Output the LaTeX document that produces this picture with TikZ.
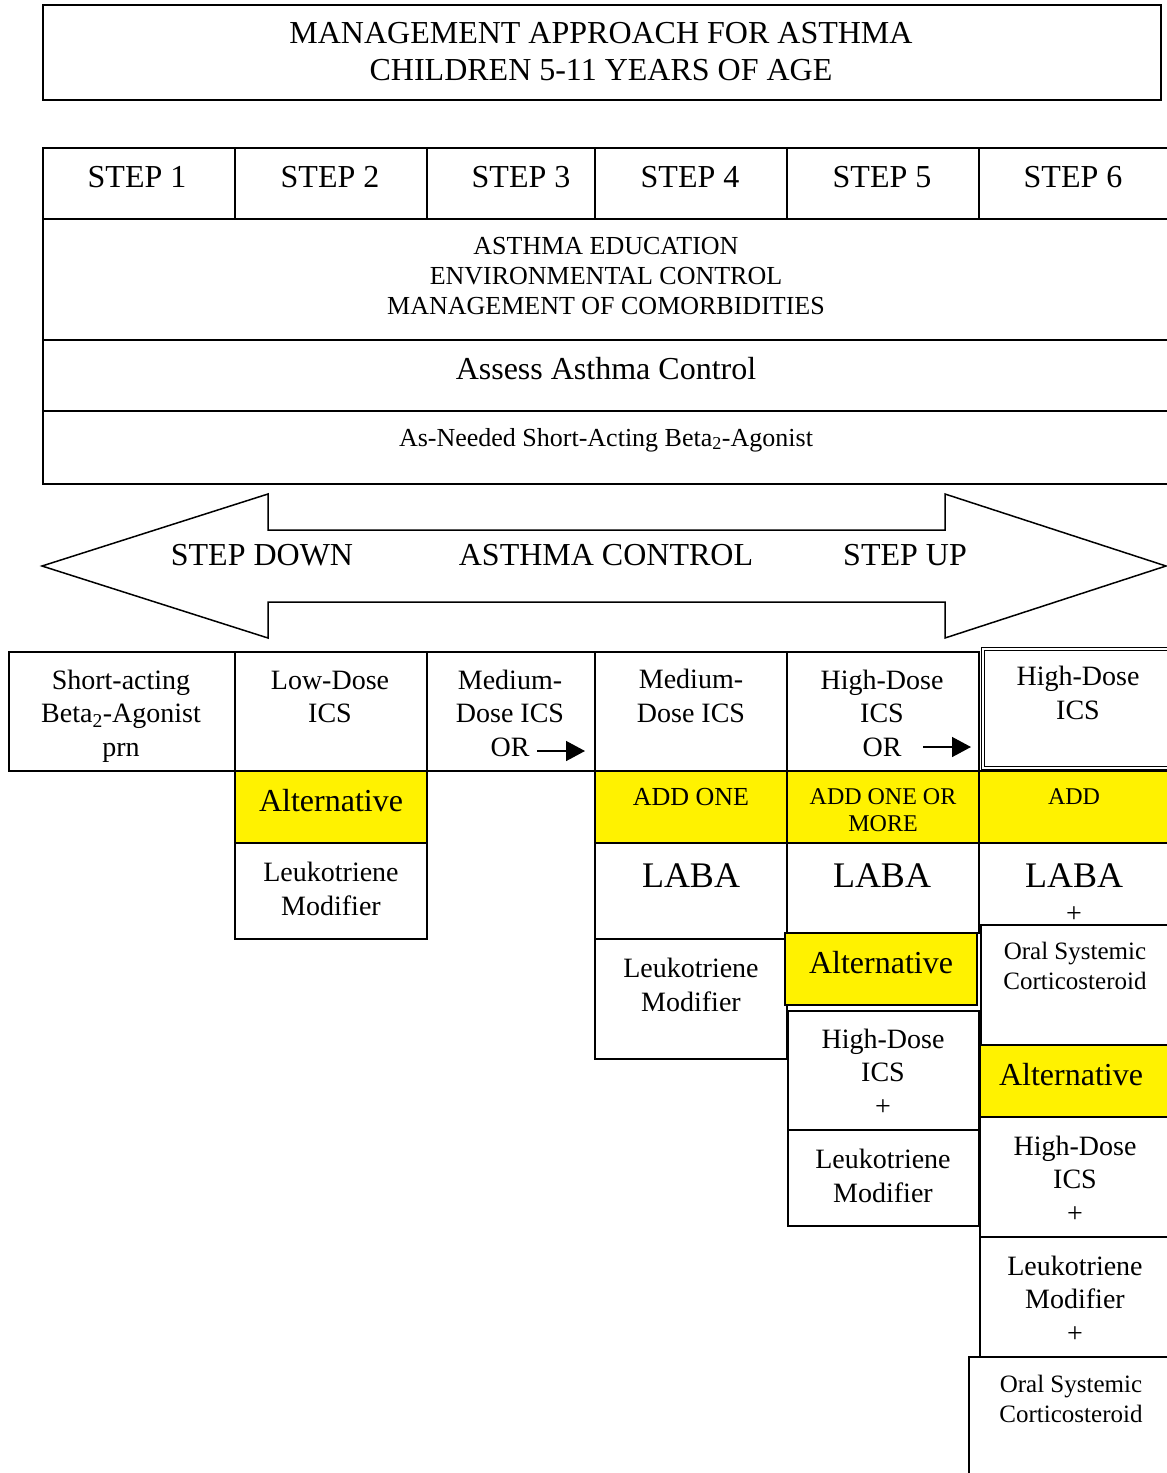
\documentclass[tikz,border=0pt]{standalone}
\usepackage{fontspec}
\setmainfont{Liberation Serif}
\usetikzlibrary{arrows.meta}
\tikzset{
 cellbox/.style={draw=black, line width=1.5pt, inner sep=0pt, outer sep=0pt},
 hl/.style={fill=yellow},
 txt/.style={inner sep=0pt, align=center, text=black},
 fA/.style={font=\fontsize{32}{37}\selectfont},
 fB/.style={font=\fontsize{28}{33.5}\selectfont},
 fC/.style={font=\fontsize{26}{30}\selectfont},
 fD/.style={font=\fontsize{24}{27}\selectfont},
 fL/.style={font=\fontsize{36}{40}\selectfont},
 fO/.style={font=\fontsize{25}{30}\selectfont},
 orarrow/.style={line width=1.5pt, -{Triangle[length=19pt,width=20pt]}},
 bigarrow/.style={draw=black, line width=1.5pt, line join=miter},
}
\newcommand\cellrect[6][]{\node[cellbox,#1,minimum width={(#4-#2)*1pt},minimum height={(#5-#3)*1pt}] (#6) at ({(#2+#4)/2},{(#3+#5)/2}) {};}
\begin{document}
\begin{tikzpicture}[x=1pt,y=-1pt]
\useasboundingbox (0,0) rectangle (1167,1473);
\clip (0,0) rectangle (1167,1473);
\fill[white] (0,0) rectangle (1167,1473);
% title
\cellrect{43}{5}{1161}{100}{title}
\node[txt,fA] (ttitle) at (601,51.5) {MANAGEMENT APPROACH FOR ASTHMA\\CHILDREN 5-11 YEARS OF AGE};
% steps table
\cellrect{43}{148}{235}{219}{s1}
\cellrect{235}{148}{427}{219}{s2}
\cellrect{427}{148}{595}{219}{s3}
\cellrect{595}{148}{787}{219}{s4}
\cellrect{787}{148}{979}{219}{s5}
\cellrect{979}{148}{1180}{219}{s6}
\cellrect{43}{219}{1180}{340}{edu}
\cellrect{43}{340}{1180}{411}{assess}
\cellrect{43}{411}{1180}{484}{saba}
\node[txt,fA] (ts1) at (137,177) {STEP 1};
\node[txt,fA] (ts2) at (330,177) {STEP 2};
\node[txt,fA] (ts3) at (521,177) {STEP 3};
\node[txt,fA] (ts4) at (690,177) {STEP 4};
\node[txt,fA] (ts5) at (882,177) {STEP 5};
\node[txt,fA] (ts6) at (1073,177) {STEP 6};
\node[txt,fC] (tedu) at (606,276) {ASTHMA EDUCATION\\ENVIRONMENTAL CONTROL\\MANAGEMENT OF COMORBIDITIES};
\node[txt,fA] (tassess) at (606,369) {Assess Asthma Control};
\node[txt,font=\fontsize{26}{30}\selectfont] (tsaba) at (606,440) {As-Needed Short-Acting Beta\textsubscript{2}-Agonist};
% big double arrow
\draw[bigarrow] (42,566) -- (268,494) -- (268,530) -- (945,530) -- (945,494) -- (1166,566) -- (945,638) -- (945,602) -- (268,602) -- (268,638) -- cycle;
\node[txt,fA] (tdown) at (262,555) {STEP DOWN};
\node[txt,fA] (tctrl) at (606,555) {ASTHMA CONTROL};
\node[txt,fA] (tup) at (905,555) {STEP UP};
% step 1
\cellrect{9}{652}{235}{771}{c1}
\node[txt,fB] (tc1) at (121,716) {Short-acting\\Beta\textsubscript{2}-Agonist\\prn};
% step 2
\cellrect{235}{652}{427}{771}{c2}
\cellrect[hl]{235}{771}{427}{843}{c2alt}
\cellrect{235}{843}{427}{939}{c2lm}
\node[txt,fB] (tc2) at (330,697) {Low-Dose\\ICS};
\node[txt,fA] (tc2alt) at (331,801) {Alternative};
\node[txt,fB] (tc2lm) at (331,889) {Leukotriene\\Modifier};
% step 3
\cellrect{427}{652}{595}{771}{c3}
\node[txt,fB] (tc3) at (510,713) {Medium-\\Dose ICS\\OR};
\coordinate (a3s) at (537,751);
\coordinate (a3e) at (585,751);
\draw[orarrow] (a3s) -- (a3e);
% step 4
\cellrect{595}{652}{787}{771}{c4}
\cellrect[hl]{595}{771}{787}{843}{c4add}
\cellrect{595}{843}{787}{939}{c4laba}
\cellrect{595}{939}{787}{1059}{c4lm}
\node[txt,fB] (tc4) at (691,696) {Medium-\\Dose ICS};
\node[txt,fC] (tc4add) at (691,797) {ADD ONE};
\node[txt,fL] (tc4laba) at (691,876) {LABA};
\node[txt,fB] (tc4lm) at (691,985) {Leukotriene\\Modifier};
% step 5
\cellrect{787}{652}{979}{771}{c5}
\cellrect[hl]{787}{771}{979}{843}{c5add}
\cellrect{787}{843}{979}{933}{c5laba}
\cellrect[hl]{785}{933}{977}{1005}{c5alt}
\cellrect{788}{1011}{979}{1130}{c5hd}
\cellrect{788}{1130}{979}{1226}{c5lm}
\node[txt,fB] (tc5) at (882,713) {High-Dose\\ICS\\OR};
\coordinate (a5s) at (923,747);
\coordinate (a5e) at (971,747);
\draw[orarrow] (a5s) -- (a5e);
\node[txt,fD] (tc5add) at (883,810) {ADD ONE OR\\MORE};
\node[txt,fL] (tc5laba) at (882,876) {LABA};
\node[txt,fA] (tc5alt) at (881,963) {Alternative};
\node[txt,fB] (tc5hd) at (883,1072) {High-Dose\\ICS\\+};
\node[txt,fB] (tc5lm) at (883,1176) {Leukotriene\\Modifier};
% step 6
\cellrect[double, double distance=2pt, line width=1pt]{983}{649}{1180}{768}{c6}
\cellrect[hl]{979}{771}{1180}{843}{c6add}
\cellrect{979}{843}{1180}{925}{c6laba}
\cellrect{981}{925}{1180}{1045}{c6ocs}
\cellrect[hl]{980}{1045}{1180}{1117}{c6alt}
\cellrect{980}{1117}{1180}{1237}{c6hd}
\cellrect{980}{1237}{1180}{1357}{c6lm}
\cellrect{969}{1357}{1180}{1490}{c6ocs2}
\node[txt,fB] (tc6) at (1078,693) {High-Dose\\ICS};
\node[txt,fD] (tc6add) at (1074,797) {ADD};
\node[txt,fL] (tc6laba) at (1074,876) {LABA};
\node[txt,fB] (tc6plus) at (1074,915) {+};
\node[txt,fO] (tc6ocs) at (1075,966) {Oral Systemic\\Corticosteroid};
\node[txt,fA] (tc6alt) at (1071,1075) {Alternative};
\node[txt,fB] (tc6hd) at (1075,1179) {High-Dose\\ICS\\+};
\node[txt,fB] (tc6lm) at (1075,1299) {Leukotriene\\Modifier\\+};
\node[txt,fO] (tc6ocs2) at (1071,1399) {Oral Systemic\\Corticosteroid};
\end{tikzpicture}
\end{document}
